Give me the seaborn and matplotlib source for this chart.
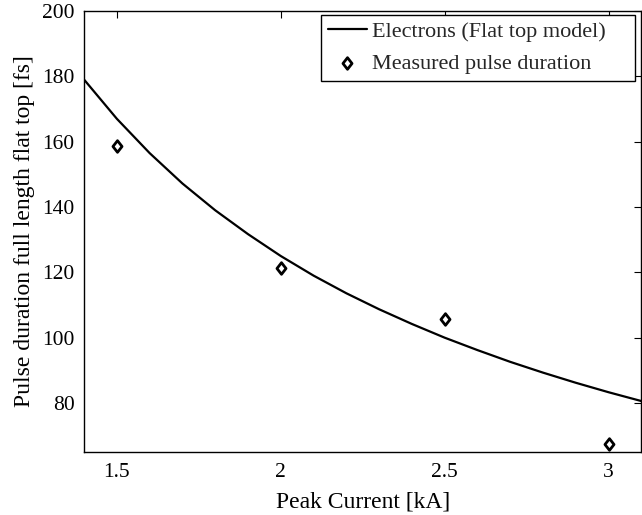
import matplotlib
matplotlib.use("Agg")
import matplotlib.pyplot as plt
from matplotlib.path import Path
import seaborn as sns
import pandas as pd

# Model curve
model_current = [1.40, 1.50, 1.60, 1.70, 1.80, 1.90, 2.00, 2.10, 2.20, 2.30, 2.40, 2.50,
                 2.60, 2.70, 2.80, 2.90, 3.00, 3.10]
model_duration = [179.0, 167.0, 156.5, 147.2, 139.0, 131.7, 125.0, 119.0, 113.6, 108.7,
                  104.2, 100.0, 96.2, 92.6, 89.3, 86.2, 83.3, 80.6]

# Measured points
meas_current = [1.5, 2.0, 2.5, 3.0]
meas_duration = [158.8, 121.2, 105.8, 67.6]

xticks = [1.5, 2, 2.5, 3]
xtick_labels = ["1.5", "2", "2.5", "3"]
yticks = [80, 100, 120, 140, 160, 180, 200]

sns.set_theme(style="white")
plt.rcParams['font.family'] = ['Liberation Serif', 'DejaVu Serif']

diamond = Path([(0, 1), (0.78, 0), (0, -1), (-0.78, 0), (0, 1)],
               [Path.MOVETO, Path.LINETO, Path.LINETO, Path.LINETO, Path.CLOSEPOLY])

fig = plt.figure(figsize=(6.42, 5.15), dpi=100)
ax = fig.add_axes([0.131, 0.1223, 0.868, 0.8563])

df_model = pd.DataFrame({"I": model_current, "T": model_duration})
df_meas = pd.DataFrame({"I": meas_current, "T": meas_duration})

sns.lineplot(data=df_model, x="I", y="T", ax=ax, color="black", linewidth=1.6,
             label="Electrons (Flat top model)")
sns.scatterplot(data=df_meas, x="I", y="T", ax=ax, marker=diamond, s=70,
                facecolor="white", edgecolor="black", linewidth=2.0,
                label="Measured pulse duration", zorder=3)

ax.set_xlim(1.4, 3.1)
ax.set_ylim(65, 200)
ax.set_xticks(xticks)
ax.set_xticklabels(xtick_labels)
ax.set_yticks(yticks)
ax.tick_params(direction="in", length=5, width=0.8, top=True, right=True,
               labelsize=15.5, colors="black", pad=7)
ax.tick_params(axis="x", pad=8)
for s in ax.spines.values():
    s.set_color("black")
    s.set_linewidth(1.0)

ax.set_xlabel("Peak Current [kA]", fontsize=17, color="black", labelpad=7)
ax.set_ylabel("Pulse duration full length flat top [fs]", fontsize=17, color="black", labelpad=5)

leg = ax.legend(loc="upper right", bbox_to_anchor=(0.4255, 0.0, 0.5637, 0.991),
                mode="expand", borderaxespad=0,
                fontsize=16, frameon=True, fancybox=False,
                edgecolor="black", framealpha=1, handlelength=1.75, borderpad=0.3,
                labelspacing=0.5, handletextpad=0.25)
leg.get_frame().set_linewidth(1.0)

fig.savefig("out.png", dpi=100)
